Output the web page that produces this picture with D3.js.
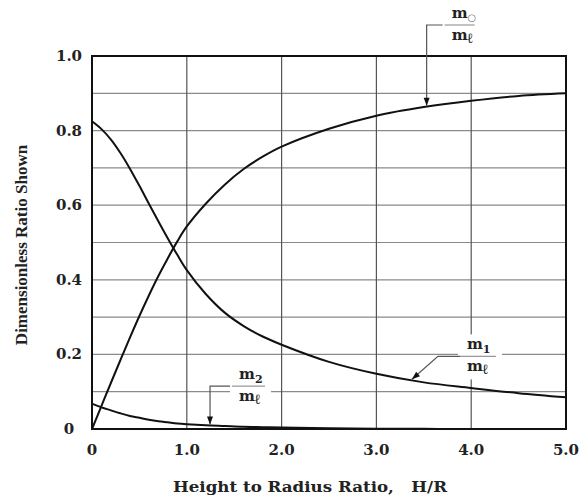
<!DOCTYPE html>
<html>
<head>
<meta charset="utf-8" />
<script src="https://d3js.org/d3.v7.min.js"></script>
<style>
  body { margin: 0; background: #fff; }
  text { font-family: "DejaVu Serif", serif; }
</style>
</head>
<body>
<svg id="chart" width="582" height="503"></svg>
<script>
// height to radius ratio values (x) and the three curves
var hr = [0, 0.1, 0.2, 0.3, 0.4, 0.5, 0.6, 0.7, 0.8, 0.9, 1.0, 1.2, 1.4, 1.6, 1.8, 2.0, 2.5, 3.0, 3.5, 4.0, 4.5, 5.0];
var m0 = [0, 0.062, 0.124, 0.185, 0.245, 0.303, 0.358, 0.41, 0.458, 0.503, 0.543, 0.604, 0.655, 0.697, 0.73, 0.757, 0.805, 0.84, 0.863, 0.88, 0.893, 0.90];
var m1 = [0.825, 0.804, 0.776, 0.74, 0.698, 0.652, 0.604, 0.557, 0.511, 0.467, 0.426, 0.362, 0.312, 0.276, 0.248, 0.226, 0.18, 0.148, 0.125, 0.11, 0.096, 0.085];
var m2 = [0.068, 0.058, 0.05, 0.042, 0.035, 0.03, 0.025, 0.021, 0.018, 0.015, 0.013, 0.010, 0.008, 0.006, 0.005, 0.004, 0.002, 0.001, 0.0005, 0, 0, 0];

var xTicks = [0, 1, 2, 3, 4, 5];
var xTickLabels = ["0", "1.0", "2.0", "3.0", "4.0", "5.0"];
var yTicks = [0, 0.2, 0.4, 0.6, 0.8, 1.0];
var yTickLabels = ["0", "0.2", "0.4", "0.6", "0.8", "1.0"];

var svg = d3.select("#chart");

// plot box
var margin = { top: 56, right: 16, bottom: 74, left: 92 };
var width = 582 - margin.left - margin.right;
var height = 503 - margin.top - margin.bottom;

var g = svg.append("g")
    .attr("transform", "translate(" + margin.left + "," + margin.top + ")");

var x = d3.scaleLinear().domain([0, 5]).range([0, width]);
var y = d3.scaleLinear().domain([0, 1]).range([height, 0]);

// grid
g.append("g").selectAll("line")
    .data(d3.range(1, 10).map(d => d / 10))
    .enter().append("line")
    .attr("x1", 0).attr("x2", width)
    .attr("y1", d => y(d)).attr("y2", d => y(d))
    .attr("stroke", "#8a8a8a").attr("stroke-width", 1.2);

g.append("g").selectAll("line")
    .data([1, 2, 3, 4])
    .enter().append("line")
    .attr("x1", d => x(d)).attr("x2", d => x(d))
    .attr("y1", 0).attr("y2", height)
    .attr("stroke", "#555").attr("stroke-width", 1.2);

// tick labels
g.selectAll(".xt")
    .data(xTicks)
    .enter().append("text")
    .attr("x", d => x(d))
    .attr("y", height + 26)
    .attr("text-anchor", "middle")
    .attr("font-size", 15).attr("font-weight", "bold")
    .attr("fill", "#222")
    .text((d, i) => xTickLabels[i]);

g.selectAll(".yt")
    .data(yTicks)
    .enter().append("text")
    .attr("x", -23)
    .attr("y", d => y(d) + 5)
    .attr("text-anchor", "middle")
    .attr("font-size", 15).attr("font-weight", "bold")
    .attr("fill", "#222")
    .text((d, i) => yTickLabels[i]);

// axis titles
svg.append("text")
    .attr("x", 310).attr("y", 492)
    .attr("text-anchor", "middle")
    .attr("font-size", 14).attr("font-weight", "bold")
    .attr("fill", "#222")
    .attr("textLength", 274).attr("lengthAdjust", "spacingAndGlyphs")
    .style("white-space", "pre")
    .text("Height to Radius Ratio,   H/R");

svg.append("text")
    .attr("transform", "translate(27,245) rotate(-90)")
    .attr("text-anchor", "middle")
    .style("font-family", "'Liberation Serif', serif")
    .attr("font-size", 17).attr("font-weight", "bold")
    .attr("fill", "#222")
    .text("Dimensionless Ratio Shown");

// curves
var line = d3.line()
    .x(d => x(d[0]))
    .y(d => y(d[1]))
    .curve(d3.curveCatmullRom.alpha(0.5));

[m0, m1, m2].forEach(function (s) {
    g.append("path")
        .datum(hr.map((h, i) => [h, s[i]]))
        .attr("d", line)
        .attr("fill", "none")
        .attr("stroke", "#111")
        .attr("stroke-width", 2);
});

// frame
g.append("rect")
    .attr("width", width).attr("height", height)
    .attr("fill", "none").attr("stroke", "#111").attr("stroke-width", 2);

// value on a curve at a given H/R
function valueAt(s, h) {
    var i = d3.bisectRight(hr, h) - 1;
    i = Math.max(0, Math.min(hr.length - 2, i));
    var t = (h - hr[i]) / (hr[i + 1] - hr[i]);
    return s[i] + t * (s[i + 1] - s[i]);
}

// fraction label: m_sub over m_l, bar starting at (bx, by)
function fraction(bx, by, w, sub, subSize, subShift) {
    g.append("rect")
        .attr("x", bx - 2).attr("y", by - 22)
        .attr("width", w + 8).attr("height", 45)
        .attr("fill", "#fff");
    g.append("line")
        .attr("x1", bx).attr("x2", bx + w)
        .attr("y1", by).attr("y2", by)
        .attr("stroke", "#999").attr("stroke-width", 1.2);
    var top = g.append("text")
        .attr("x", bx + 7).attr("y", by - 7)
        .attr("font-size", 15).attr("font-weight", "bold").attr("fill", "#222");
    top.append("tspan").text("m");
    top.append("tspan").attr("font-size", subSize).attr("dy", subShift)
        .attr("font-weight", sub === "\u25CB" ? "normal" : "bold")
        .attr("fill", sub === "\u25CB" ? "#777" : "#222")
        .text(sub);
    var bot = g.append("text")
        .attr("x", bx + 7).attr("y", by + 15)
        .attr("font-size", 15).attr("font-weight", "bold").attr("fill", "#222");
    bot.append("tspan").text("m");
    bot.append("tspan").attr("font-size", 14).attr("dy", 3).text("\u2113");
}

function arrowHead(px, py, angle) {
    g.append("path")
        .attr("d", "M0,0 L-8,-3 L-8,3 Z")
        .attr("transform", "translate(" + px + "," + py + ") rotate(" + angle + ")")
        .attr("fill", "#111");
}

// m0 / m_l, leader bends down onto the curve
var h0 = 3.53;
var tip0 = [x(h0), y(valueAt(m0, h0))];
fraction(x(h0) + 18, -31, 30, "\u25CB", 10, 3);
g.append("path")
    .attr("d", "M" + (x(h0) + 16) + "," + (-31) + " H" + tip0[0] + " V" + (tip0[1] - 1))
    .attr("fill", "none").attr("stroke", "#555").attr("stroke-width", 1.2);
arrowHead(tip0[0], tip0[1] - 1, 90);

// m1 / m_l, diagonal leader
var h1 = 3.375;
var tip1 = [x(h1), y(valueAt(m1, h1))];
fraction(x(h1) + 48, y(0.2) + 2, 36, "1", 11, 4);
g.append("path")
    .attr("d", "M" + (x(h1) + 48) + "," + (y(0.2) + 2) + " H" + (x(h1) + 26) + " L" + tip1[0] + "," + (tip1[1] - 1))
    .attr("fill", "none").attr("stroke", "#555").attr("stroke-width", 1.2);
arrowHead(tip1[0], tip1[1] - 1, 180 - Math.atan2(22, 26) * 180 / Math.PI);

// m2 / m_l, leader bends down onto the curve
var h2 = 1.245;
var tip2 = [x(h2), y(valueAt(m2, h2))];
fraction(x(h2) + 22, y(0.115), 33, "2", 11, 4);
g.append("path")
    .attr("d", "M" + (x(h2) + 20) + "," + y(0.115) + " H" + tip2[0] + " V" + (tip2[1] - 1))
    .attr("fill", "none").attr("stroke", "#555").attr("stroke-width", 1.2);
arrowHead(tip2[0], tip2[1] - 1, 90);
</script>
</body>
</html>
